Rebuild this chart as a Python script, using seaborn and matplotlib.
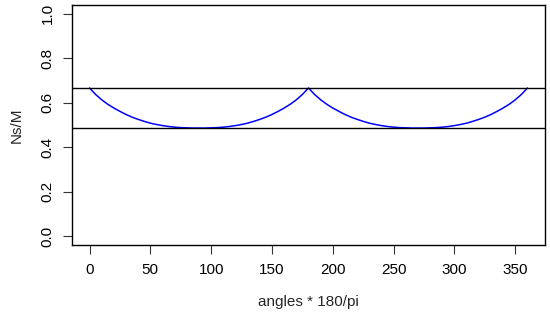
"""Ns/M の角度依存性 — R の base plot 風の折れ線."""

import matplotlib

matplotlib.use("Agg")

import matplotlib.pyplot as plt
import pandas as pd
import seaborn as sns

# 角度 (度) と Ns/M の読み取り値
angles = list(range(0, 365, 5))
ns_m = [
    0.667, 0.638, 0.614, 0.594, 0.577, 0.562, 0.548, 0.536, 0.526, 0.517,
    0.509, 0.503, 0.498, 0.494, 0.491, 0.489, 0.488, 0.487, 0.487, 0.487,
    0.488, 0.489, 0.491, 0.494, 0.498, 0.503, 0.509, 0.517, 0.526, 0.536,
    0.548, 0.562, 0.577, 0.594, 0.614, 0.638, 0.667,
    0.638, 0.614, 0.594, 0.577, 0.562, 0.548, 0.536, 0.526, 0.517,
    0.509, 0.503, 0.498, 0.494, 0.491, 0.489, 0.488, 0.487, 0.487, 0.487,
    0.488, 0.489, 0.491, 0.494, 0.498, 0.503, 0.509, 0.517, 0.526, 0.536,
    0.548, 0.562, 0.577, 0.594, 0.614, 0.638, 0.667,
]
x_ticks = [0, 50, 100, 150, 200, 250, 300, 350]
y_ticks = [0.0, 0.2, 0.4, 0.6, 0.8, 1.0]

df = pd.DataFrame({"angle": angles, "ns_m": ns_m})

sns.set_theme(style="ticks")
plt.rcParams["font.family"] = ["Liberation Sans", "DejaVu Sans"]

fig = plt.figure(figsize=(5.5, 3.21), dpi=100)
ax = fig.add_axes([0.1309, 0.2358, 0.86, 0.7486])

sns.lineplot(data=df, x="angle", y="ns_m", ax=ax, color="#0000ff",
             linewidth=1.1, sort=False)

# 最大値・最小値の水平線
ax.axhline(max(ns_m), color="black", linewidth=1.0)
ax.axhline(min(ns_m), color="black", linewidth=1.0)

ax.set_xlim(-14.4, 374.4)
ax.set_ylim(-0.04, 1.04)
ax.set_xticks(x_ticks)
ax.set_xticklabels([str(t) for t in x_ticks])
ax.set_yticks(y_ticks)
ax.set_yticklabels([f"{t:.1f}" for t in y_ticks])
plt.setp(ax.get_yticklabels(), rotation=90, va="center")

for s in ax.spines.values():
    s.set_visible(True)
    s.set_color("black")
    s.set_linewidth(1.0)

ax.tick_params(axis="both", direction="out", length=6.5, width=0.8,
               color="#333333", labelsize=11, labelcolor="black")
ax.tick_params(axis="x", pad=6)
ax.tick_params(axis="y", pad=6)

ax.set_xlabel("angles * 180/pi", fontsize=11, labelpad=13)
ax.set_ylabel("Ns/M", fontsize=11, labelpad=12)

fig.savefig("out.png", dpi=100)
plt.close(fig)
